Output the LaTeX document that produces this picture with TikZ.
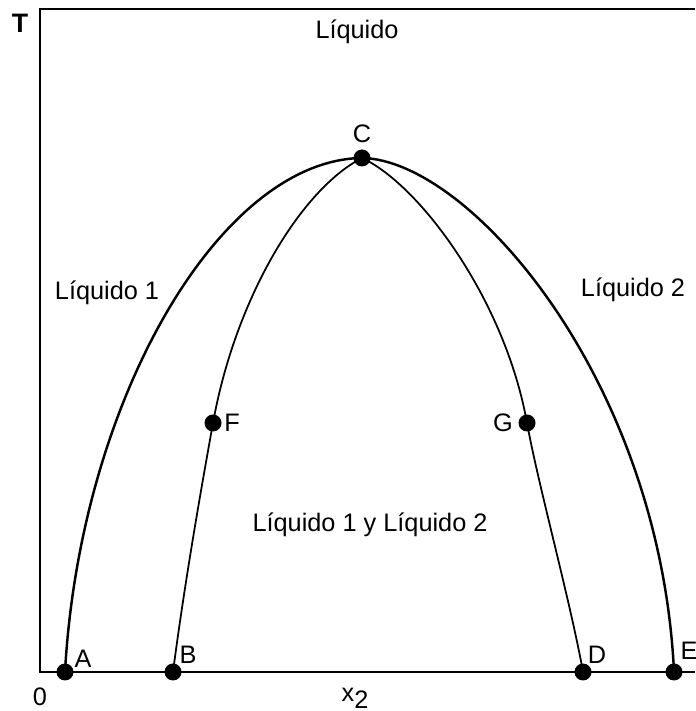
\documentclass[tikz,border=0pt]{standalone}
\usepackage{fontspec}
\setmainfont{Liberation Sans}
\begin{document}
\begin{tikzpicture}[
  punto/.style={circle,fill=black,inner sep=0pt,minimum size=0.17cm},
  etiq/.style={font=\fontsize{7.2}{8.6}\selectfont,inner sep=1pt}]
  \useasboundingbox (0,0) rectangle (6.95,7.11);
  % ejes
  \draw[line width=0.8pt] (6.95,7.02) -- (0.40,7.02) -- (0.40,0.39) -- (6.95,0.39);
  \node[etiq,font=\fontsize{7.6}{9}\selectfont\bfseries] (T) at (0.20,6.88) {T};
  \node[etiq] (cero) at (0.40,0.14) {0};
  \node[etiq] (xdos) at (3.55,0.13) {x\raisebox{-0.55ex}{2}};
  % puntos
  \node[punto] (A) at (0.65,0.39) {};
  \node[punto] (B) at (1.73,0.39) {};
  \node[punto] (C) at (3.62,5.53) {};
  \node[punto] (D) at (5.83,0.39) {};
  \node[punto] (E) at (6.74,0.39) {};
  \node[punto] (F) at (2.13,2.88) {};
  \node[punto] (G) at (5.27,2.88) {};
  % curvas
  \draw[line width=0.7pt] (A.center) .. controls (0.80,3.11) and (2.20,5.51) .. (C.center)
    .. controls (4.70,5.51) and (6.60,3.31) .. (E.center);
  \draw[line width=0.5pt] (B.center) .. controls (1.85,1.31) and (2.02,2.27) .. (F.center)
    .. controls (2.35,4.11) and (3.00,5.21) .. (C.center);
  \draw[line width=0.5pt] (C.center) .. controls (4.20,5.26) and (5.05,4.11) .. (G.center)
    .. controls (5.38,2.27) and (5.70,1.11) .. (D.center);
  % letras
  \node[etiq] (lA) at (0.83,0.52) {A};
  \node[etiq] (lB) at (1.88,0.56) {B};
  \node[etiq] (lC) at (3.62,5.77) {C};
  \node[etiq] (lD) at (5.97,0.56) {D};
  \node[etiq] (lE) at (6.89,0.60) {E};
  \node[etiq] (lF) at (2.32,2.88) {F};
  \node[etiq] (lG) at (5.03,2.88) {G};
  % regiones
  \node[etiq] (liq) at (3.57,6.79) {Líquido};
  \node[etiq] (liq1) at (1.07,4.18) {Líquido 1};
  \node[etiq] (liq2) at (6.33,4.21) {Líquido 2};
  \node[etiq] (liq12) at (3.70,1.86) {Líquido 1 y Líquido 2};
\end{tikzpicture}
\end{document}
